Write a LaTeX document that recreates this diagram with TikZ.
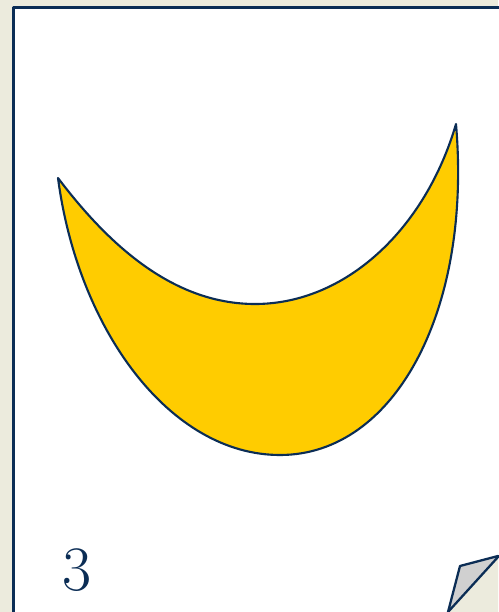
\documentclass[tikz,border=0pt]{standalone}
\usetikzlibrary{
    calc
}
\definecolor{navy}{HTML}{0B2D55}
\definecolor{paper}{HTML}{ECEBDD}
\definecolor{moon}{HTML}{FFCC00}
\definecolor{fold}{HTML}{D0D0D0}
\tikzset{
  every path/.style={
    line join=round
  },
  card/.style={
    draw=navy,
    fill=white,
    line width=1.8pt
  },
  outline/.style={
    draw=navy,
    line width=1.2pt
  }
}

\begin{document}
\begin{tikzpicture}[x=0.02cm,y=-0.02cm]
    % 背景
    \fill[paper] (0,0) rectangle (498,612);
    \useasboundingbox (0,0) rectangle (498,612);

    % カード
    \draw[card] (13.5,7.5) -- (520,7.5) -- (520,640) -- (13.5,640) -- cycle;

    % 三日月
    \draw[outline,fill=moon] (58,178)
        .. controls (78,330) and (170,455) .. (280,455)
        .. controls (395,455) and (472,310) .. (456,124)
        .. controls (425,230) and (345,304) .. (255,304)
        .. controls (170,304) and (105,240) .. (58,178) -- cycle;

    % 番号
    \node[text=navy,font=\fontsize{36}{40}\selectfont,anchor=base] (num) at (77,590) {3};

    % めくれた角
    \fill[paper] (448,612) -- (498,557) -- (498,612) -- cycle;
    \draw[outline,line width=1.3pt,fill=fold] (448,612) -- (460,566) -- (498,556) -- (498,557) -- cycle;
\end{tikzpicture}
\end{document}
